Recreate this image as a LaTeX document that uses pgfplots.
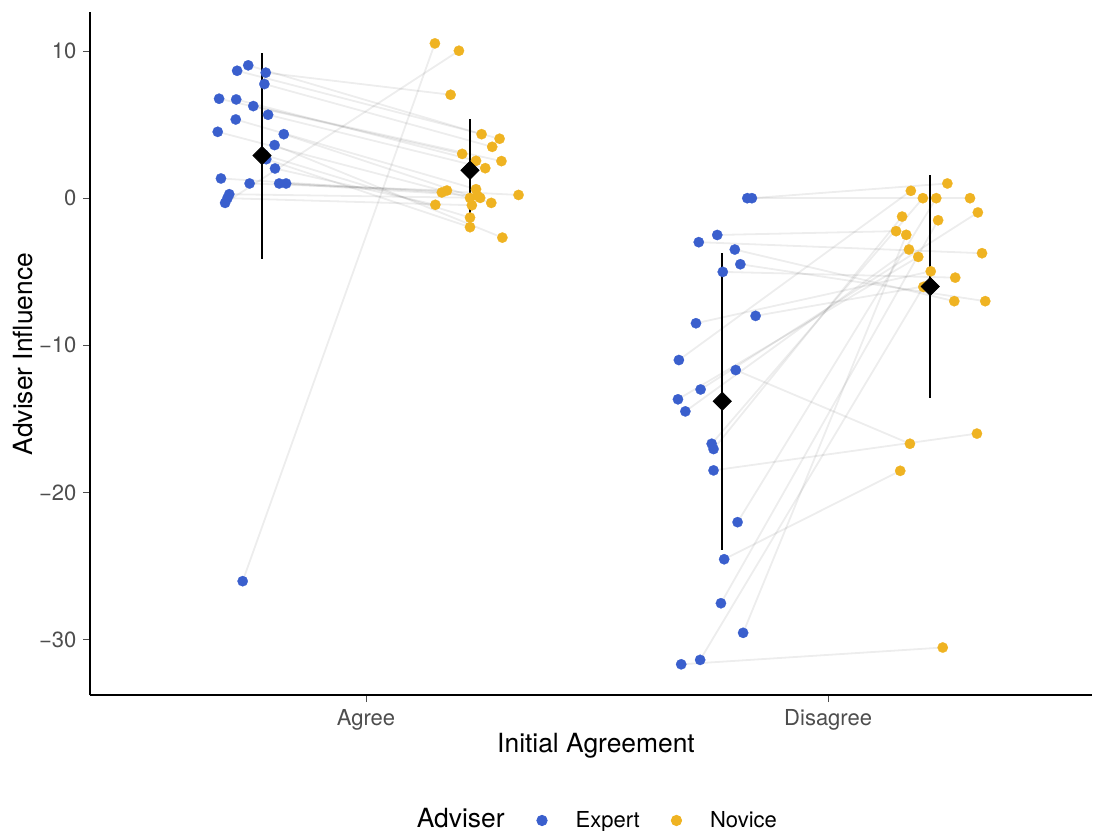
\documentclass[border=0pt]{standalone}
\usepackage{fontspec}
\setmainfont{TeX Gyre Heros}
\usepackage{pgfplots}
\pgfplotsset{compat=1.18}
\usepackage{pgfplotstable}

\definecolor{expertblue}{RGB}{58,95,205}
\definecolor{novicegold}{RGB}{239,179,34}
\definecolor{tickgrey}{RGB}{77,77,77}

% One row per participant: expert score (xe,ye) and novice score (xn,yn)
\pgfplotstableread{
xe    ye      xn    yn
0.733 -26.03  1.149 10.52
0.695 -0.32   1.201 10.02
0.783 8.53    1.183 7.03
0.745 9.03    1.250 4.35
0.721 8.66    1.289 4.04
0.780 7.76    1.273 3.49
0.682 6.76    1.208 3.01
0.719 6.71    1.238 2.54
0.756 6.26    1.293 2.52
0.788 5.67    1.258 2.04
0.718 5.35    1.238 0.61
0.679 4.51    1.225 0.02
0.822 4.35    1.271 -0.32
0.802 3.61    1.295 -2.68
0.784 2.65    1.225 -1.97
0.779 2.95    1.225 -1.32
0.803 2.02    1.150 -0.45
0.686 1.34    1.164 0.39
0.748 1.00    1.175 0.52
0.812 1.00    1.241 0.16
0.827 1.00    1.330 0.22
0.704 0.27    1.247 0.02
0.700 0.00    1.229 -0.48
}\agree

\pgfplotstableread{
xe    ye      xn    yn
1.825 0.00    2.307 0.00
1.835 0.00    2.258 1.00
1.760 -2.50   2.147 -2.24
1.720 -2.99   2.333 -3.74
1.798 -3.49   2.273 -7.00
1.810 -4.49   2.340 -7.00
1.772 -5.01   2.275 -5.40
1.714 -8.50   2.222 -4.97
1.843 -8.00   2.215 -5.95
1.677 -11.00  2.179 0.50
1.800 -11.68  2.177 -16.69
1.724 -13.00  2.324 -0.97
1.675 -13.67  2.195 -3.99
1.691 -14.49  2.175 -3.49
1.748 -16.69  2.205 0.00
1.752 -17.05  2.160 -1.25
1.752 -18.50  2.322 -16.00
1.804 -22.02  2.234 0.00
1.775 -24.54  2.156 -18.53
1.768 -27.53  2.238 -1.50
1.816 -29.54  2.169 -2.49
1.723 -31.38  2.206 -6.03
1.682 -31.68  2.248 -30.54
}\disagree

% Group means with error half-widths
\pgfplotstableread{
x     y      err
0.775 2.90   7.00
1.225 1.90   3.45
1.771 -13.80 10.10
2.221 -6.00  7.60
}\means

\begin{document}
\begin{tikzpicture}
\begin{axis}[
  name=ax,
  scale only axis, width=501pt, height=341.5pt,
  xmin=0.4026, xmax=2.571, ymin=-33.8, ymax=12.62,
  clip=false,
  axis lines*=left,
  axis line style={line width=1pt, black},
  tick align=outside,
  major tick length=3.3pt,
  tick style={line width=0.5pt, tickgrey},
  xtick={1,2}, xticklabels={Agree,Disagree},
  ytick={-30,-20,-10,0,10}, yticklabels={−30,−20,−10,0,10},
  ticklabel style={font=\fontsize{11}{13}\selectfont, text=tickgrey},
  xlabel={Initial Agreement}, ylabel={Adviser Influence},
  every axis x label/.style={at={(axis description cs:0.505,-0.0732)}, anchor=center,
    font=\fontsize{13.2}{15}\selectfont},
  every axis y label/.style={at={(axis description cs:-0.0669,0.5)}, anchor=center, rotate=90,
    font=\fontsize{13.2}{15}\selectfont},
  legend columns=-1,
  legend style={at={(0.5675,-0.183)}, anchor=center, draw=none, fill=none,
    font=\fontsize{11}{13}\selectfont,
    /tikz/every odd column/.append style={column sep=12pt},
    /tikz/every even column/.append style={column sep=13.5pt}},
  mark size=2.6pt,
]
% participant connections
\addplot[forget plot, no markers, draw=black, opacity=0.07, line width=0.9pt,
  quiver={u=\thisrow{xn}-\thisrow{xe}, v=\thisrow{yn}-\thisrow{ye}}]
  table[x=xe, y=ye]{\agree};
\addplot[forget plot, no markers, draw=black, opacity=0.07, line width=0.9pt,
  quiver={u=\thisrow{xn}-\thisrow{xe}, v=\thisrow{yn}-\thisrow{ye}}]
  table[x=xe, y=ye]{\disagree};
% expert and novice points
\addplot[forget plot, only marks, mark=*, color=expertblue,
  mark options={fill=expertblue, draw=expertblue, line width=0.1pt}] table[x=xe, y=ye]{\agree};
\addplot[forget plot, only marks, mark=*, color=expertblue,
  mark options={fill=expertblue, draw=expertblue, line width=0.1pt}] table[x=xe, y=ye]{\disagree};
\addplot[forget plot, only marks, mark=*, color=novicegold,
  mark options={fill=novicegold, draw=novicegold, line width=0.1pt}] table[x=xn, y=yn]{\agree};
\addplot[forget plot, only marks, mark=*, color=novicegold,
  mark options={fill=novicegold, draw=novicegold, line width=0.1pt}] table[x=xn, y=yn]{\disagree};
% means with error bars
\addplot[forget plot, only marks, black, mark=square*, mark size=3.2pt,
  mark options={rotate=45, fill=black, draw=black},
  error bars/.cd, y dir=both, y explicit, error mark=none,
  error bar style={line width=1pt, black}]
  table[x=x, y=y, y error=err]{\means};
% legend
\addlegendimage{legend image code/.code={\fill[expertblue] (0pt,0pt) circle (2.6pt);}}
\addlegendentry{Expert}
\addlegendimage{legend image code/.code={\fill[novicegold] (0pt,0pt) circle (2.6pt);}}
\addlegendentry{Novice}
\node[font=\fontsize{13.2}{15}\selectfont, anchor=center] at (axis description cs:0.370,-0.180) {Adviser};
\end{axis}
\pgfresetboundingbox
\path[use as bounding box] ([shift={(-45pt,-67.5pt)}]ax.south west) rectangle ([shift={(1pt,6.25pt)}]ax.north east);
\end{tikzpicture}
\end{document}
